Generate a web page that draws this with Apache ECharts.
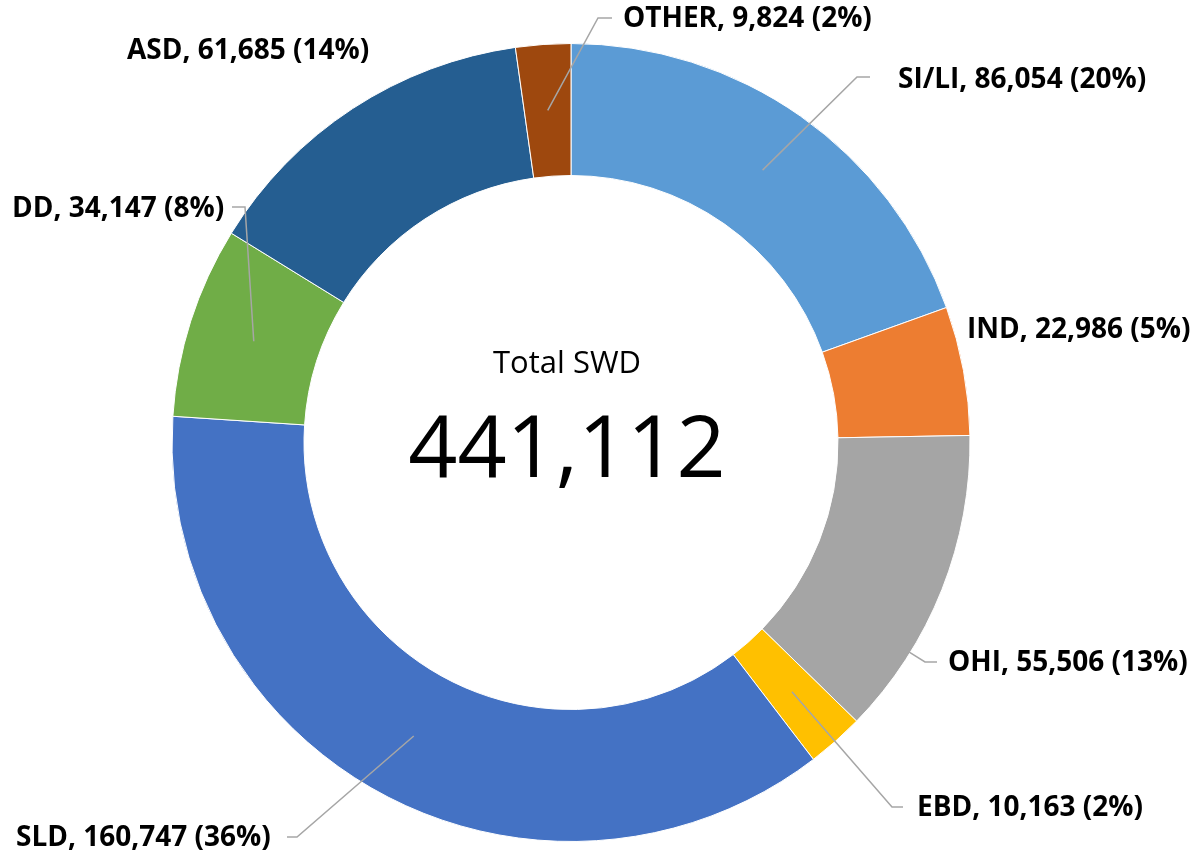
<!DOCTYPE html>
<html>
<head>
<meta charset="utf-8">
<title>Total SWD</title>
<script src="https://cdn.jsdelivr.net/npm/echarts@6/dist/echarts.min.js"></script>
<style>
  html, body { margin: 0; padding: 0; background: #fff; }
  #main { width: 1190px; height: 853px; }
</style>
</head>
<body>
<div id="main"></div>
<script>
// 分类和数值（从12点钟方向开始，顺时针）
var categories = ['SI/LI', 'IND', 'OHI', 'EBD', 'SLD', 'DD', 'ASD', 'OTHER'];
var values = [86054, 22986, 55506, 10163, 160747, 34147, 61685, 9824];
var colors = ['#5B9BD5', '#ED7D31', '#A5A5A5', '#FFC000', '#4472C4', '#70AD47', '#255E91', '#9E480E'];
var centerTitle = 'Total SWD';

// 环形图的位置和大小
var cx = 571, cy = 442.5;
var rInner = 267, rOuter = 399;

// 标签摆放位置（原图里是手动拖过去的）
// knee: 引导线折点, end: 引导线终点, from: 引导线从扇区哪里出发
var labelSpots = [
  { x: 898, y: 80,  knee: [857, 77],  end: [870, 77],  from: 'mid' },
  { x: 967, y: 330, knee: null },
  { x: 948, y: 663, knee: [925, 662], end: [937, 662], from: 'outer' },
  { x: 917, y: 808, knee: [892, 807], end: [903, 807], from: 'mid' },
  { x: 16,  y: 838, knee: [297, 837], end: [287, 837], from: 'mid' },
  { x: 12,  y: 209, knee: [245, 207], end: [232, 207], from: 'mid' },
  { x: 127, y: 51,  knee: null },
  { x: 623, y: 19,  knee: [598, 18],  end: [612, 18],  from: 'mid' }
];

var total = values.reduce(function (a, b) { return a + b }, 0);

// 引导线的起点
function lineStart(i) {
  var spot = labelSpots[i];
  if (spot.from === 'outer') {
    var dx = spot.knee[0] - cx, dy = spot.knee[1] - cy;
    var len = Math.sqrt(dx * dx + dy * dy);
    return [cx + dx / len * (rOuter - 1), cy + dy / len * (rOuter - 1)];
  }
  var before = 0;
  for (var k = 0; k < i; k++) before += values[k];
  var ang = (before + values[i] / 2) / total * Math.PI * 2;
  var rm = (rInner + rOuter) / 2;
  return [cx + rm * Math.sin(ang), cy - rm * Math.cos(ang)];
}

var ringData = categories.map(function (name, i) {
  return { name: name, value: values[i], itemStyle: { color: colors[i] } };
});

// 透明的一层，只负责标签和引导线（引导线要压在扇区上面）
var labelData = categories.map(function (name, i) {
  return { name: name, value: values[i], labelLine: { show: !!labelSpots[i].knee } };
});

var myChart = echarts.init(document.getElementById('main'));

var option = {
  backgroundColor: '#fff',
  animation: false,
  graphic: [
    {
      type: 'text',
      x: 567, y: 364,
      style: {
        text: centerTitle,
        font: '31px "Open Sans", sans-serif',
        fill: '#000',
        align: 'center', verticalAlign: 'middle',
        textAlign: 'center', textVerticalAlign: 'middle'
      }
    },
    {
      type: 'text',
      x: 567, y: 452,
      style: {
        text: total.toLocaleString('en-US'),
        font: '86px "Open Sans", sans-serif',
        fill: '#000',
        align: 'center', verticalAlign: 'middle',
        textAlign: 'center', textVerticalAlign: 'middle'
      }
    }
  ],
  series: [
    {
      type: 'pie',
      z: 2,
      center: [cx, cy],
      radius: [rInner, rOuter],
      startAngle: 90,
      clockwise: true,
      itemStyle: { borderColor: '#fff', borderWidth: 1 },
      label: { show: false },
      labelLine: { show: false },
      emphasis: { disabled: true },
      silent: true,
      data: ringData
    },
    {
      type: 'pie',
      z: 5,
      center: [cx, cy],
      radius: [rInner, rOuter],
      startAngle: 90,
      clockwise: true,
      avoidLabelOverlap: false,
      silent: true,
      itemStyle: { color: 'rgba(0,0,0,0)', borderWidth: 0 },
      label: {
        show: true,
        position: 'outside',
        fontFamily: '"Open Sans", sans-serif',
        fontWeight: 'bold',
        fontSize: 28,
        color: '#000',
        formatter: function (p) {
          return p.name + ', ' + p.value.toLocaleString('en-US') + ' (' + Math.round(p.percent) + '%)';
        }
      },
      labelLine: {
        show: true,
        showAbove: true,
        length: 10,
        length2: 10,
        lineStyle: { color: '#A6A6A6', width: 1.5 }
      },
      labelLayout: function (params) {
        var i = params.dataIndex;
        var spot = labelSpots[i];
        var res = { x: spot.x, y: spot.y, align: 'left', verticalAlign: 'middle' };
        if (spot.knee) {
          res.labelLinePoints = [lineStart(i), spot.knee, spot.end];
        }
        return res;
      },
      emphasis: { disabled: true },
      data: labelData
    }
  ]
};

myChart.setOption(option);
</script>
</body>
</html>
